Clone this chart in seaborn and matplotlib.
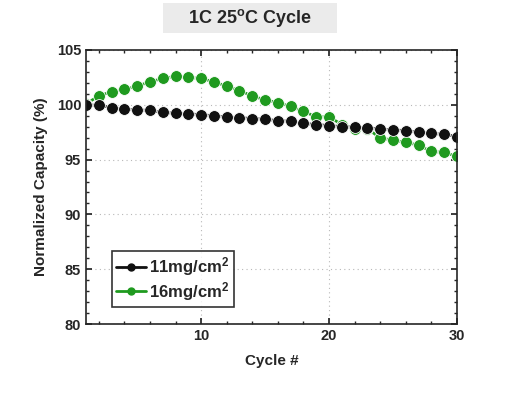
import numpy as np
import pandas as pd
import seaborn as sns
import matplotlib
matplotlib.use("Agg")
import matplotlib.pyplot as plt
from matplotlib.ticker import MultipleLocator
from matplotlib.lines import Line2D
from matplotlib.patches import Rectangle

cycles = list(range(1, 31))
cap_11 = [100.0, 99.94, 99.75, 99.6, 99.54, 99.48, 99.3, 99.24, 99.18, 99.09,
          99.0, 98.9, 98.82, 98.75, 98.68, 98.55, 98.5, 98.3, 98.2, 98.1,
          98.0, 97.95, 97.9, 97.8, 97.7, 97.65, 97.5, 97.4, 97.3, 97.1]
cap_16 = [100.1, 100.8, 101.2, 101.4, 101.7, 102.1, 102.4, 102.6, 102.5, 102.4,
          102.1, 101.7, 101.3, 100.8, 100.45, 100.2, 99.85, 99.4, 98.9, 98.9,
          98.2, 97.8, 97.8, 97.0, 96.75, 96.6, 96.3, 95.75, 95.65, 95.3]
series_names = ["11mg/cm$^{2}$", "16mg/cm$^{2}$"]
series_colors = ["#111111", "#1f9a1f"]

df = pd.concat([
    pd.DataFrame({"Cycle": cycles, "Capacity": cap_11, "Sample": series_names[0]}),
    pd.DataFrame({"Cycle": cycles, "Capacity": cap_16, "Sample": series_names[1]}),
])

sns.set_theme(style="ticks")
plt.rcParams['font.family'] = ['Liberation Sans', 'DejaVu Sans']
plt.rcParams['mathtext.fontset'] = 'custom'
plt.rcParams['mathtext.rm'] = 'Liberation Sans:bold'
plt.rcParams['mathtext.it'] = 'Liberation Sans:bold'
plt.rcParams['mathtext.bf'] = 'Liberation Sans:bold'

fig = plt.figure(figsize=(5.06, 4.00), dpi=100)
ax = fig.add_axes([0.170, 0.19, 0.733, 0.685])

sns.lineplot(data=df, x="Cycle", y="Capacity", hue="Sample",
             hue_order=[series_names[1], series_names[0]],
             palette=dict(zip(series_names, series_colors)),
             marker="o", markersize=8.5, linewidth=2.0,
             markeredgewidth=0.6, ax=ax, legend=False)

handles = [Line2D([0], [0], color=c, lw=2, marker="o", markersize=5) for c in series_colors]
leg = ax.legend(handles, series_names, loc="lower left", bbox_to_anchor=(0.07, 0.062),
                frameon=True, fancybox=False, edgecolor="black",
                prop={'weight': 'bold', 'size': 12}, handlelength=1.8,
                borderpad=0.25, labelspacing=0.12, handletextpad=0.2,
                borderaxespad=0.0)
leg.get_frame().set_linewidth(1.2)

ax.set_xlim(1, 30)
ax.set_ylim(80, 105)
ax.xaxis.set_major_locator(MultipleLocator(10))
ax.xaxis.set_minor_locator(MultipleLocator(2))
ax.yaxis.set_major_locator(MultipleLocator(5))
ax.yaxis.set_minor_locator(MultipleLocator(1))
ax.tick_params(which="both", direction="in", top=True, right=True, labelsize=10.5)
ax.tick_params(which="major", length=4)
ax.tick_params(which="minor", length=2)
for lab in ax.get_xticklabels() + ax.get_yticklabels():
    lab.set_fontweight("bold")
ax.grid(True, which="major", color="#b8b8b8", linestyle=(0, (1, 3)), linewidth=0.8)
for s in ax.spines.values():
    s.set_linewidth(1.2)

ax.set_xlabel("Cycle #", fontsize=11, fontweight="bold", labelpad=8)
ax.set_ylabel("Normalized Capacity (%)", fontsize=11, fontweight="bold", labelpad=6)

fig.patches.append(Rectangle((163 / 506, 1 - 33 / 400), 174 / 506, 30 / 400,
                             transform=fig.transFigure, facecolor="#ebebeb",
                             edgecolor="none", zorder=0))
fig.text(0.494, 1 - 18 / 400, "1C 25$^{o}$C Cycle", ha="center", va="center",
         fontsize=13, fontweight="bold")

fig.savefig("out.png", dpi=100)
